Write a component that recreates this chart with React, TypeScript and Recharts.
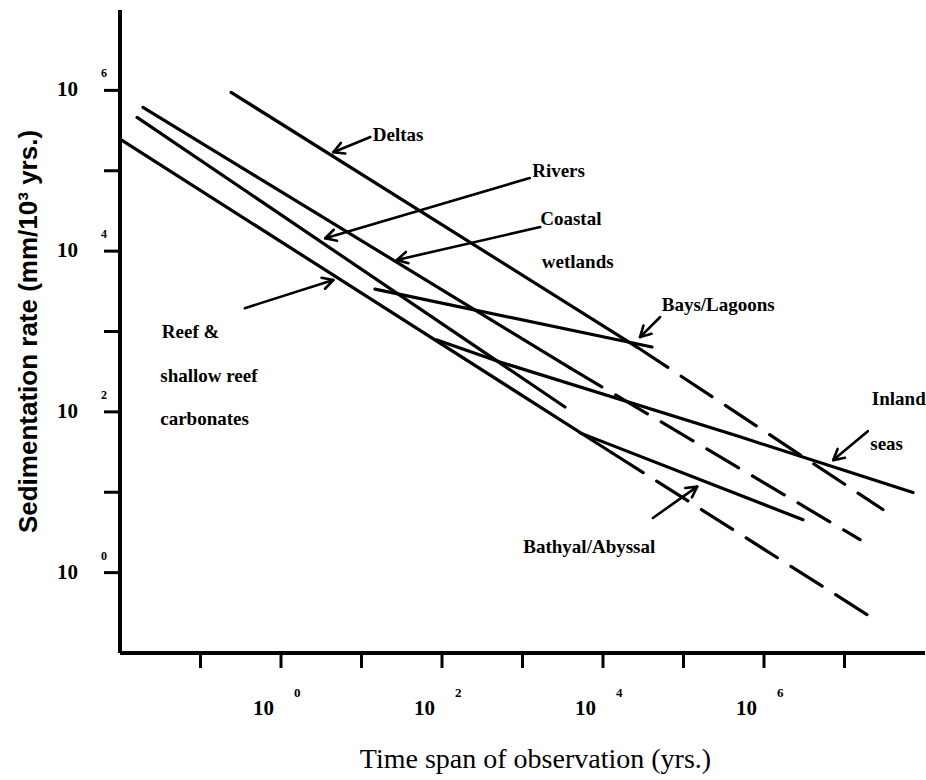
import { LineChart, Line, XAxis, YAxis, ReferenceLine, ReferenceDot } from 'recharts';

const X_TICKS = [0.1, 1, 10, 100, 1e3, 1e4, 1e5, 1e6, 1e7];
const Y_TICKS = [1, 10, 100, 1e3, 1e4, 1e5, 1e6];
const LABELLED_POWERS = [0, 2, 4, 6];

// environments: time span (yrs) vs sedimentation rate (mm/10^3 yrs)
const deltas = [{ x: 0.24, y: 944000 }, { x: 26400, y: 641 }];
const deltasDashed = [{ x: 26400, y: 641 }, { x: 3.0e7, y: 6.1 }];
const baysLagoons = [{ x: 14.7, y: 3370 }, { x: 40600, y: 641 }];
const coastalWetlands = [{ x: 0.0193, y: 615000 }, { x: 3890, y: 352 }];
const coastalDashed = [{ x: 3890, y: 352 }, { x: 1.56e7, y: 2.57 }];
const rivers = [{ x: 0.0163, y: 462000 }, { x: 3370, y: 115 }];
const reef = [{ x: 0.0106, y: 239000 }, { x: 12900, y: 31 }];
const reefDashed = [{ x: 12900, y: 31 }, { x: 2.39e7, y: 0.26 }];
const inlandSeas = [
  { x: 86.7, y: 784 },
  { x: 525, y: 418 },
  { x: 504000, y: 48.9 },
  { x: 7.1e7, y: 9.9 },
];
const bathyalAbyssal = [{ x: 5180, y: 54.8 }, { x: 3.05e6, y: 4.55 }];

// annotation positions, in log10 units of the axes
const LABELS = [
  { text: 'Deltas', at: [1.14, 5.37] },
  { text: 'Rivers', at: [3.12, 4.92] },
  { text: 'Coastal', at: [3.22, 4.32] },
  { text: 'wetlands', at: [3.24, 3.79] },
  { text: 'Bays/Lagoons', at: [4.73, 3.25] },
  { text: 'Inland', at: [7.34, 2.09] },
  { text: 'seas', at: [7.32, 1.53] },
  { text: 'Bathyal/Abyssal', at: [3.01, 0.25] },
  { text: 'Reef &', at: [-1.48, 2.92] },
  { text: 'shallow reef', at: [-1.5, 2.37] },
  { text: 'carbonates', at: [-1.5, 1.84] },
];

const ARROWS = [
  { from: [1.11, 5.42], to: [0.65, 5.23] },
  { from: [3.09, 4.91], to: [0.55, 4.16] },
  { from: [3.22, 4.3], to: [1.44, 3.89] },
  { from: [4.71, 3.18], to: [4.46, 2.93] },
  { from: [7.29, 1.76], to: [6.86, 1.4] },
  { from: [4.62, 0.68], to: [5.17, 1.07] },
  { from: [-0.45, 3.29], to: [0.65, 3.64] },
];

const INK = '#000';

function Arrow(props: any) {
  const { x1, y1, x2, y2 } = props;
  const ang = Math.atan2(y2 - y1, x2 - x1);
  const len = 12;
  const spread = 0.5;
  const h1 = [x2 + len * Math.cos(ang + Math.PI - spread), y2 + len * Math.sin(ang + Math.PI - spread)];
  const h2 = [x2 + len * Math.cos(ang + Math.PI + spread), y2 + len * Math.sin(ang + Math.PI + spread)];
  return (
    <g stroke={INK} strokeWidth={2.6} fill="none" strokeLinecap="round" strokeLinejoin="round">
      <line x1={x1} y1={y1} x2={x2} y2={y2} />
      <polyline points={`${h1[0]},${h1[1]} ${x2},${y2} ${h2[0]},${h2[1]}`} />
    </g>
  );
}

function XTick(props: any) {
  const { x, y, payload } = props;
  const p = Math.round(Math.log10(payload.value));
  if (!LABELLED_POWERS.includes(p)) return <g />;
  return (
    <g fontFamily="'Liberation Serif', serif" fontWeight="bold" fill={INK}>
      <text x={x - 7} y={y + 47} textAnchor="end" fontSize={21}>10</text>
      <text x={x + 13} y={y + 29} textAnchor="start" fontSize={13}>{p}</text>
    </g>
  );
}

function YTick(props: any) {
  const { x, y, payload } = props;
  const p = Math.round(Math.log10(payload.value));
  if (!LABELLED_POWERS.includes(p)) return <g />;
  return (
    <g fontFamily="'Liberation Serif', serif" fontWeight="bold" fill={INK}>
      <text x={x - 26} y={y + 6} textAnchor="end" fontSize={21}>10</text>
      <text x={x - 3} y={y - 13} textAnchor="start" fontSize={12}>{p}</text>
    </g>
  );
}

const seriesProps = {
  type: 'linear' as const,
  dataKey: 'y',
  stroke: INK,
  strokeWidth: 3.2,
  dot: false,
  activeDot: false,
  isAnimationActive: false,
  strokeLinecap: 'round' as const,
};

export default function App() {
  return (
    <div style={{ position: 'absolute', left: 0, top: 0, background: '#fff' }}>
      <LineChart width={926} height={780} margin={{ top: 10, right: 1, bottom: 0, left: 0 }}>
        <XAxis
          dataKey="x"
          type="number"
          scale="log"
          domain={[0.01, 1e8]}
          allowDataOverflow
          ticks={X_TICKS}
          height={127}
          tickSize={15}
          tickMargin={0}
          axisLine={{ stroke: INK, strokeWidth: 4 }}
          tickLine={{ stroke: INK, strokeWidth: 3 }}
          tick={<XTick />}
          label={(p: any) => {
            const vb = p.viewBox;
            return (
              <text
                x={vb.x + vb.width / 2 + 13}
                y={vb.y + 115}
                textAnchor="middle"
                fontFamily="'Liberation Serif', serif"
                fontSize={28}
                fill={INK}
              >
                Time span of observation (yrs.)
              </text>
            );
          }}
        />
        <YAxis
          dataKey="y"
          type="number"
          scale="log"
          domain={[0.1, 1e7]}
          allowDataOverflow
          ticks={Y_TICKS}
          width={120}
          tickSize={16}
          tickMargin={0}
          axisLine={{ stroke: INK, strokeWidth: 4 }}
          tickLine={{ stroke: INK, strokeWidth: 3 }}
          tick={<YTick />}
          label={(p: any) => {
            const vb = p.viewBox;
            const cx = vb.x + 28;
            const cy = vb.y + vb.height / 2;
            return (
              <text
                x={cx}
                y={cy}
                transform={`rotate(-90 ${cx} ${cy})`}
                textAnchor="middle"
                dominantBaseline="central"
                fontFamily="'Liberation Sans', Arial, sans-serif"
                fontWeight="bold"
                fontSize={26}
                fill={INK}
              >
                Sedimentation rate (mm/10³ yrs.)
              </text>
            );
          }}
        />
        <Line {...seriesProps} data={deltas} name="Deltas" />
        <Line {...seriesProps} data={deltasDashed} strokeDasharray="37 16" name="Deltas (extrapolated)" />
        <Line {...seriesProps} data={baysLagoons} name="Bays/Lagoons" />
        <Line {...seriesProps} data={coastalWetlands} name="Coastal wetlands" />
        <Line {...seriesProps} data={coastalDashed} strokeDasharray="37 16" name="Coastal wetlands (extrapolated)" />
        <Line {...seriesProps} data={rivers} name="Rivers" />
        <Line {...seriesProps} data={reef} name="Reef & shallow reef carbonates" />
        <Line {...seriesProps} data={reefDashed} strokeDasharray="37 16" name="Reef (extrapolated)" />
        <Line {...seriesProps} data={inlandSeas} name="Inland seas" />
        <Line {...seriesProps} data={bathyalAbyssal} name="Bathyal/Abyssal" />
        {ARROWS.map((a, i) => (
          <ReferenceLine
            key={`arrow-${i}`}
            segment={[
              { x: 10 ** a.from[0], y: 10 ** a.from[1] },
              { x: 10 ** a.to[0], y: 10 ** a.to[1] },
            ]}
            shape={Arrow}
            ifOverflow="visible"
          />
        ))}
        {LABELS.map((l) => (
          <ReferenceDot
            key={l.text}
            x={10 ** l.at[0]}
            y={10 ** l.at[1]}
            r={0}
            ifOverflow="visible"
            shape={(p: any) => (
              <text
                x={p.cx}
                y={p.cy}
                fontFamily="'Liberation Serif', serif"
                fontWeight="bold"
                fontSize={19}
                fill={INK}
              >
                {l.text}
              </text>
            )}
          />
        ))}
      </LineChart>
    </div>
  );
}
